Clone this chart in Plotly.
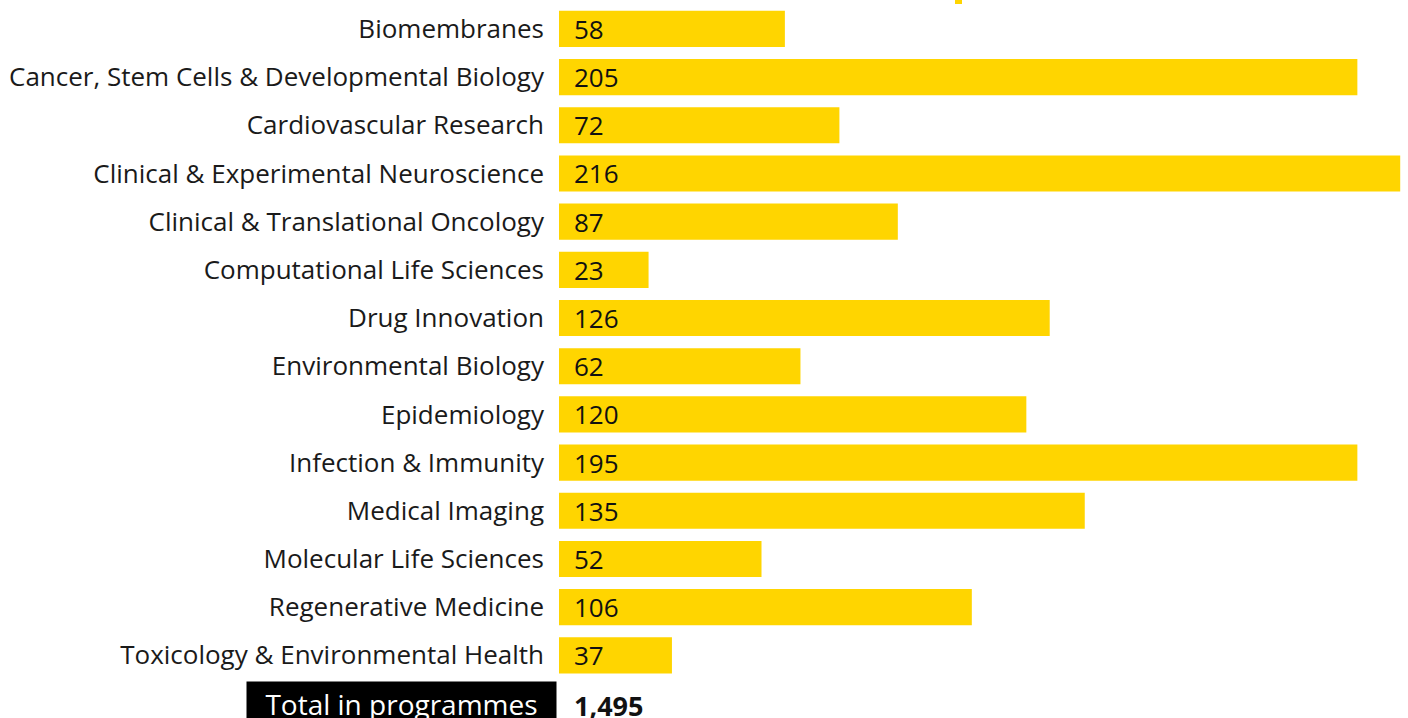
import plotly.graph_objects as go

categories = [
    "Biomembranes",
    "Cancer, Stem Cells & Developmental Biology",
    "Cardiovascular Research",
    "Clinical & Experimental Neuroscience",
    "Clinical & Translational Oncology",
    "Computational Life Sciences",
    "Drug Innovation",
    "Environmental Biology",
    "Epidemiology",
    "Infection & Immunity",
    "Medical Imaging",
    "Molecular Life Sciences",
    "Regenerative Medicine",
    "Toxicology & Environmental Health",
]
# bar lengths as drawn in the picture
bar_lengths = [58, 205, 72, 216, 87, 23, 126, 62, 120, 205, 135, 52, 106, 29]
# numbers printed on the bars
value_labels = ["58", "205", "72", "216", "87", "23", "126", "62", "120", "195", "135", "52", "106", "37"]
total_label = "Total in programmes"
total_value = "1,495"

YELLOW = "#FFD500"
FONT = "Open Sans"

rows = list(range(len(categories)))
total_row = len(categories)

fig = go.Figure()
fig.add_trace(go.Bar(
    x=bar_lengths, y=rows, orientation="h",
    marker=dict(color=YELLOW, line=dict(width=0)),
    width=0.75, hoverinfo="skip", showlegend=False,
))

for r, lab in zip(rows, value_labels):
    fig.add_annotation(x=0, y=r, xref="x", yref="y", text=lab, showarrow=False,
                       xanchor="left", yanchor="middle", xshift=13,
                       font=dict(family=FONT, size=26, color="#111111"))

fig.add_annotation(x=0, y=total_row, xref="x", yref="y", text="<b>" + total_value + "</b>",
                   showarrow=False, xanchor="left", yanchor="middle", xshift=13, yshift=-2,
                   font=dict(family=FONT, size=27, color="#111111"))
fig.add_annotation(x=0, y=total_row, xref="x", yref="y", text=total_label,
                   showarrow=False, xanchor="right", yanchor="middle", xshift=-2,
                   bgcolor="#000000", borderpad=0,
                   font=dict(family=FONT, size=28, color="#ffffff"),
                   width=309, height=44, align="center", valign="middle")

# small yellow fragment at the top edge
fig.add_shape(type="rect", xref="paper", yref="paper", x0=(955 - 559) / 849, x1=(962 - 559) / 849,
              y0=1 - 4 / 718, y1=1.01, fillcolor=YELLOW, line=dict(width=0))

fig.update_layout(
    width=1408, height=718,
    margin=dict(l=559, r=0, t=0, b=0),
    paper_bgcolor="white", plot_bgcolor="white",
    bargap=0.25,
    xaxis=dict(range=[0, 218], visible=False, fixedrange=True),
    yaxis=dict(range=[14.3, -0.6], tickvals=rows, ticktext=categories,
               showgrid=False, zeroline=False, showline=False, ticks="",
               ticklabelstandoff=14, fixedrange=True,
               tickfont=dict(family=FONT, size=26, color="#1a1a1a")),
)

fig.write_html("out.html",
               config={"displayModeBar": False, "staticPlot": True},
               post_script="document.body.style.margin='0';document.body.style.overflow='hidden';")
